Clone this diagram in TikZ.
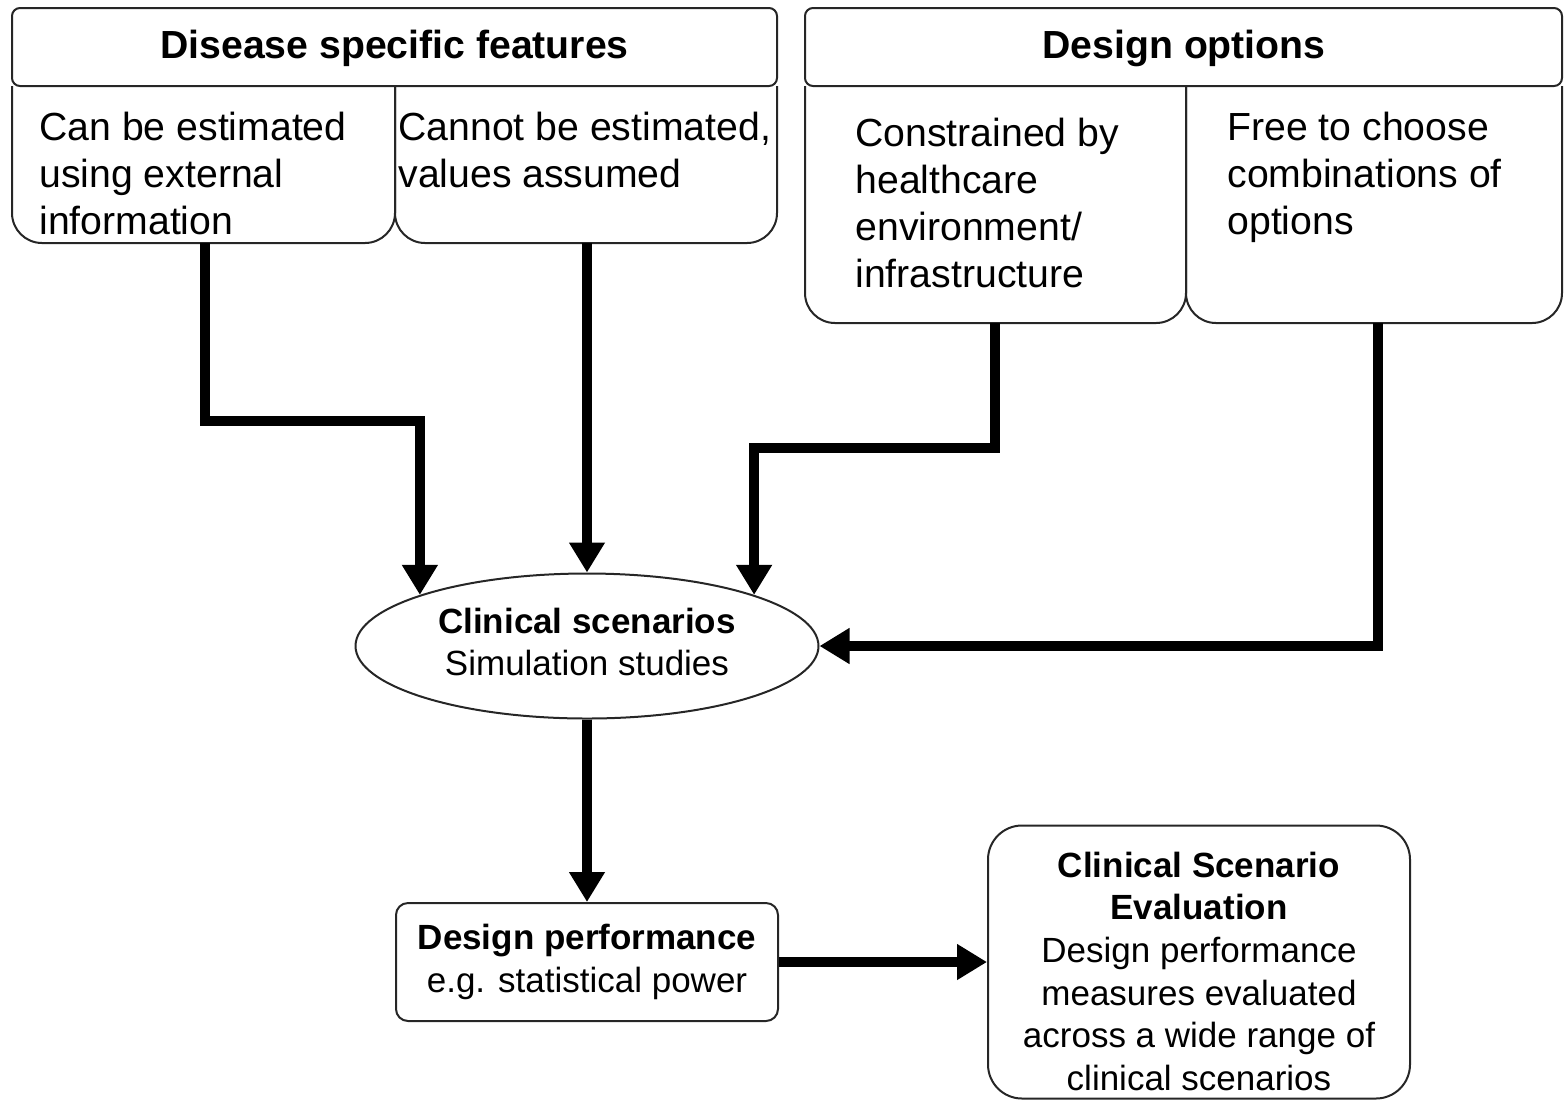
\documentclass[tikz,border=0pt]{standalone}
\usepackage{fontspec}
\setmainfont{Liberation Sans}
\usetikzlibrary{arrows.meta,shapes.geometric}
\begin{document}
\begin{tikzpicture}[x=0.5pt,y=-0.5pt,
  box/.style={draw=black!85,line width=1pt},
  arr/.style={line width=5pt,-{Triangle[width=17pt,length=15pt]}},
  big/.style={font=\fontsize{19.6}{23.5}\selectfont},
  small/.style={font=\fontsize{17.5}{21.3}\selectfont},
  txt/.style={big,anchor=north west,inner sep=0pt,align=left}]
\useasboundingbox (0,0) rectangle (1564,1100);
% ---- Disease specific features group
\draw[box,rounded corners=4pt] (12,8) rectangle (777,86);
\node[big,font=\fontsize{19.6}{23.5}\selectfont\bfseries,anchor=base] (hdl) at (394.5,58) {Disease specific features};
\draw[box,rounded corners=15pt] (12,86) -- (12,243) -- (395,243) -- (395,86);
\draw[box,rounded corners=15pt] (395,86) -- (395,243) -- (777,243) -- (777,86);
\node[txt] (t1) at (39,112) {Can be estimated\\using external\\information};
\node[txt] (t2) at (398,112) {Cannot be estimated,\\values assumed};
% ---- Design options group
\draw[box,rounded corners=4pt] (805,8) rectangle (1562,86);
\node[big,font=\fontsize{19.6}{23.5}\selectfont\bfseries,anchor=base] (hdr) at (1184,58) {Design options};
\draw[box,rounded corners=15pt] (805,86) -- (805,323) -- (1186,323) -- (1186,86);
\draw[box,rounded corners=15pt] (1186,86) -- (1186,323) -- (1562,323) -- (1562,86);
\node[txt] (t3) at (855,118) {Constrained by\\healthcare\\environment/\\infrastructure};
\node[txt] (t4) at (1227,112) {Free to choose\\combinations of\\options};
% ---- connector start points
\coordinate (s1) at (205,243);
\coordinate (s2) at (587,243);
\coordinate (s3) at (995,323);
\coordinate (s4) at (1378,323);
% ---- central ellipse
\node[box,ellipse,small,align=center,minimum width=231.5pt,minimum height=72.5pt,inner sep=0pt] (cs) at (587,646)
  {{\bfseries Clinical scenarios}\\Simulation studies\rule[-4pt]{0pt}{1pt}};
% ---- design performance
\node[box,rounded corners=6pt,small,align=center,minimum width=191pt,minimum height=59pt] (dp) at (587,962)
  {{\bfseries Design performance}\\e.g. statistical power};
% ---- evaluation
\node[box,rounded corners=17pt,small,align=center,minimum width=211pt,minimum height=136.5pt] (ev) at (1199,962)
  {\rule{0pt}{22pt}{\bfseries Clinical Scenario}\\{\bfseries Evaluation}\\Design performance\\measures evaluated\\across a wide range of\\clinical scenarios};
% ---- connectors
\draw[arr] (s1) -- ++(0,178) -| (cs.163);
\draw[arr] (s2) -- (cs.north);
\draw[arr] (s3) -- ++(0,125) -| (cs.17.7);
\draw[arr] (s4) |- (cs.east);
\draw[arr] (cs.south) -- (dp.north);
\draw[arr] (dp.east) -- (ev.west);
\end{tikzpicture}
\end{document}
